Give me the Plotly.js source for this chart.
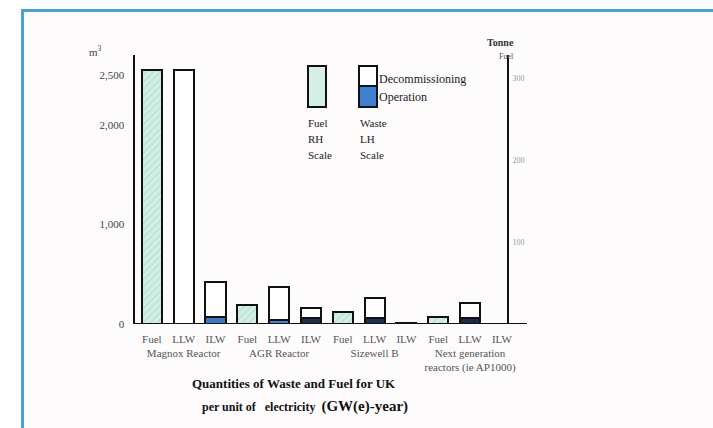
<!DOCTYPE html>
<html>
<head>
<meta charset="utf-8">
<script src="https://cdn.plot.ly/plotly-3.0.1.min.js"></script>
<style>
  html, body { margin: 0; padding: 0; width: 713px; height: 428px; overflow: hidden; background: #ffffff; }
  #frame { position: absolute; left: 21px; top: 9px; width: 800px; height: 500px;
           border-left: 3px solid #4aa3cc; border-top: 3px solid #4aa3cc; background: #fdfbfc; }
  #chart { position: absolute; left: 0; top: 0; width: 713px; height: 428px; }
</style>
</head>
<body>
<div id="frame"></div>
<div id="chart"></div>
<script>
// ---- data ----
const reactors = ["Magnox Reactor", "AGR Reactor", "Sizewell B", "Next generation<br>reactors (ie AP1000)"];
const fuelLabel = "Fuel";
const fuelTonnes = [310, 23, 15, 9];                       // RH scale, tonnes fuel

const wasteReactors = [reactors[0], reactors[0], reactors[1], reactors[1], reactors[2], reactors[2], reactors[3], reactors[3]];
const wasteTypes = ["LLW", "ILW", "LLW", "ILW", "LLW", "ILW", "LLW", "ILW"];
const operationM3 = [0, 70, 40, 60, 60, 0, 60, 0];           // LH scale, m3
const decommissioningM3 = [2550, 350, 330, 100, 200, 12, 150, 0];

const leftTicks = [0, 1000, 2000, 2500];
const rightTicks = [100, 200, 300];

// ---- styles ----
const operationColors = ["#3c78c4", "#3c78c4", "#4a80d0", "#1e2d4a", "#1f2f4f", "#7b8494", "#1a2a48", "#1a2a48"];
const serif = "Liberation Serif, Times New Roman, serif";

// plot area in pixels (BASE = bar baseline, B = where the category labels hang)
const L = 135, R = 527, T = 55, B = 331, BASE = 324;
const W = R - L, H = B - T;
const px = x => (x - L) / W;
const py = y => (B - y) / H;

const fuelTrace = {
  type: "bar", name: "Fuel",
  x: [reactors, reactors.map(() => fuelLabel)],
  y: fuelTonnes, yaxis: "y2",
  marker: { color: "#cfeee3", line: { color: "#111", width: 2 },
            pattern: { shape: "/", fgcolor: "#b6e0d0", bgcolor: "#d2efe5", size: 5, solidity: 0.25 } },
  hoverinfo: "skip", showlegend: false
};
const opTrace = {
  type: "bar", name: "Operation",
  x: [wasteReactors, wasteTypes], y: operationM3,
  marker: { color: operationColors, line: { color: "#111", width: 2 } },
  hoverinfo: "skip", showlegend: false
};
const decTrace = {
  type: "bar", name: "Decommissioning",
  x: [wasteReactors, wasteTypes], y: decommissioningM3,
  marker: { color: "#ffffff", line: { color: "#111", width: 2 } },
  hoverinfo: "skip", showlegend: false
};

const txt = (x, y, text, opts) => Object.assign({
  xref: "paper", yref: "paper", x: px(x), y: py(y), text: text, showarrow: false,
  xanchor: "left", yanchor: "middle",
  font: { family: serif, size: 11, color: "#222" }
}, opts || {});

const layout = {
  width: 713, height: 428,
  paper_bgcolor: "rgba(0,0,0,0)", plot_bgcolor: "rgba(0,0,0,0)",
  margin: { l: L, r: 713 - R, t: T, b: 428 - B },
  barmode: "stack", bargap: 0.37,
  showlegend: false,
  xaxis: {
    type: "multicategory", range: [-0.53, 11.79], tickangle: 0,
    anchor: "free", position: 0,
    showline: false, showdividers: false, ticks: "", showgrid: false,
    tickfont: { family: serif, size: 11, color: "#555" }
  },
  yaxis: {
    domain: [py(BASE), 1],
    range: [0, 2700], tickvals: leftTicks, tickformat: ",",
    showline: true, linecolor: "#111", linewidth: 2.5,
    showgrid: false, zeroline: false, ticks: "", ticklabelstandoff: 6,
    tickfont: { family: serif, size: 11, color: "#444" }
  },
  yaxis2: {
    overlaying: "y", side: "right", anchor: "free", position: px(508),
    range: [0, 328], tickvals: rightTicks,
    showline: true, linecolor: "#111", linewidth: 2,
    showgrid: false, zeroline: false, ticks: "", ticklabelstandoff: 2,
    tickfont: { family: serif, size: 8, color: "#999" }
  },
  shapes: [
    // baseline of the bars
    { type: "line", xref: "paper", yref: "y", x0: 0, x1: 1, y0: 0, y1: 0,
      line: { color: "#111", width: 2 } },
    // legend keys
    { type: "rect", xref: "paper", yref: "paper", x0: px(308), x1: px(326), y0: py(107), y1: py(66),
      fillcolor: "#d5efe6", line: { color: "#111", width: 2 } },
    { type: "rect", xref: "paper", yref: "paper", x0: px(359), x1: px(377), y0: py(86), y1: py(66),
      fillcolor: "#ffffff", line: { color: "#111", width: 2 } },
    { type: "rect", xref: "paper", yref: "paper", x0: px(359), x1: px(377), y0: py(107), y1: py(86),
      fillcolor: "#3e7fcf", line: { color: "#111", width: 2 } }
  ],
  annotations: [
    txt(87, 51, "m<sup>3</sup>", { font: { family: serif, size: 11, color: "#444" } }),
    txt(500, 42, "<b>Tonne</b>", { xanchor: "center", font: { family: serif, size: 10, color: "#333" } }),
    txt(506, 56, "Fuel", { xanchor: "center", font: { family: serif, size: 8, color: "#555" } }),
    txt(377, 79, "Decommissioning", { font: { family: serif, size: 12, color: "#222" } }),
    txt(377, 97, "Operation", { font: { family: serif, size: 12, color: "#222" } }),
    txt(306, 123, "Fuel"),
    txt(306, 139, "RH"),
    txt(306, 155, "Scale"),
    txt(358, 123, "Waste"),
    txt(358, 139, "LH"),
    txt(358, 155, "Scale"),
    txt(294, 383, "<b>Quantities of Waste and Fuel for UK</b>", { xanchor: "center", font: { family: serif, size: 13, color: "#111" } }),
    txt(305, 406, "<b>per unit of   electricity  </b><b style='font-size:15px'>(GW(e)-year)</b>", { xanchor: "center", font: { family: serif, size: 12, color: "#111" } })
  ]
};

Plotly.newPlot("chart", [fuelTrace, opTrace, decTrace], layout, { staticPlot: true, displayModeBar: false });
</script>
</body>
</html>
